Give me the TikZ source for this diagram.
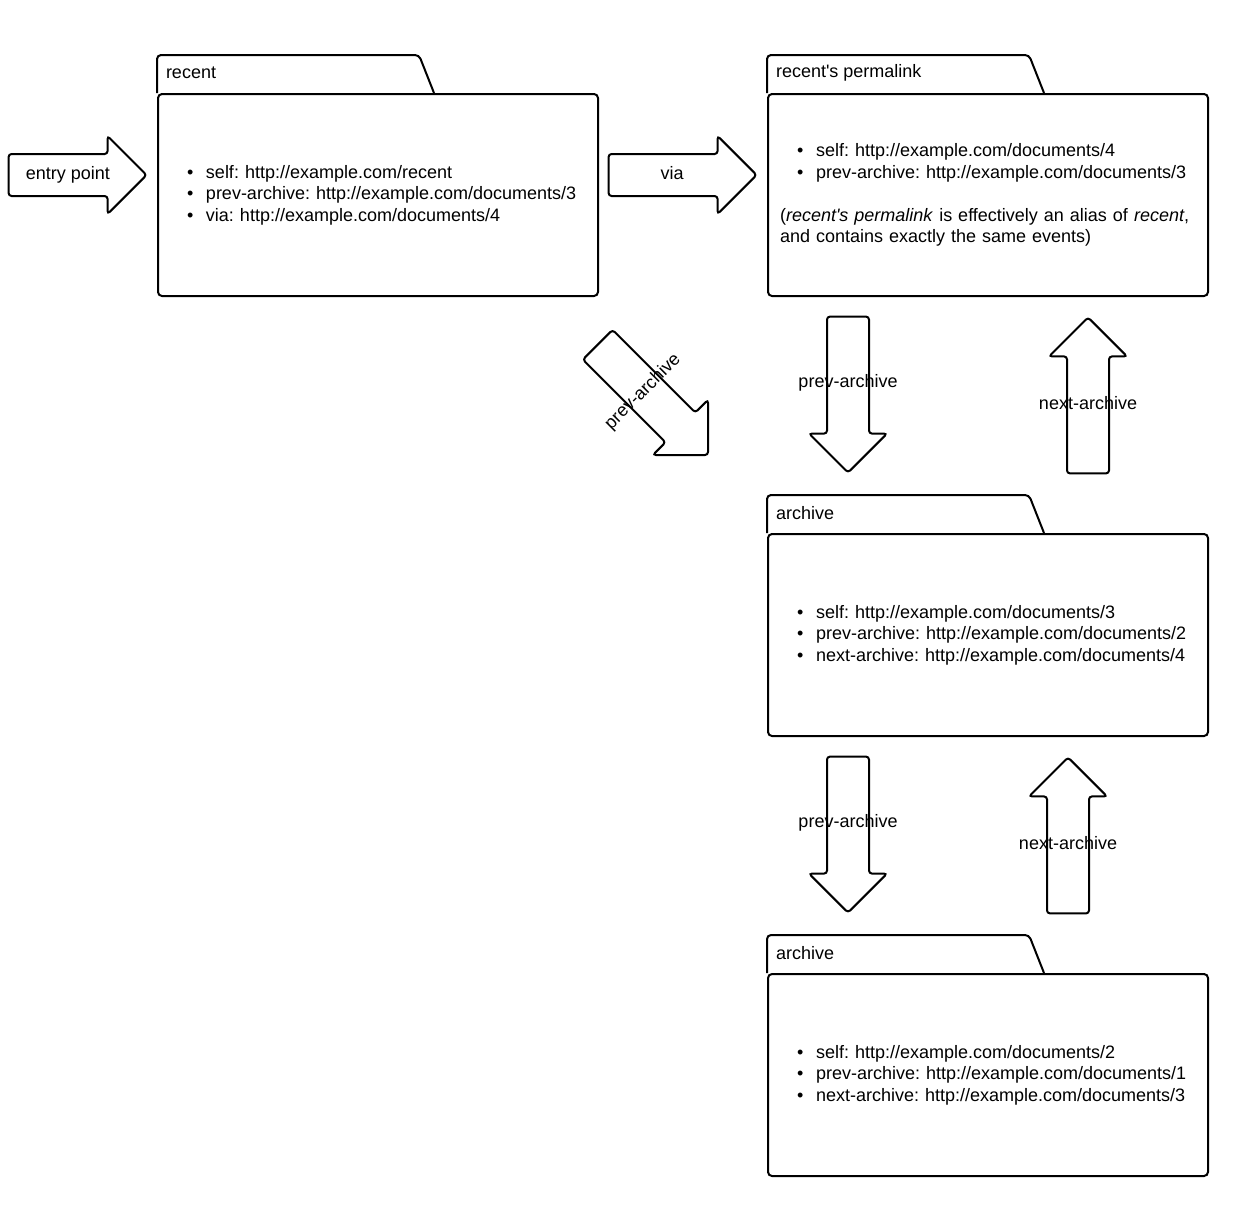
\documentclass[tikz,border=0pt]{standalone}
\usepackage{fontspec}
\setmainfont{Liberation Sans}
\usetikzlibrary{shapes.arrows}
\frenchspacing

\newcommand{\itm}[1]{\hspace*{8.5pt}\makebox[9.5pt][l]{\textbullet}#1}

\begin{document}
\begin{tikzpicture}[x=0.5pt, y=-0.5pt, line width=1pt,
  every node/.style={font=\fontsize{9}{10.75}\selectfont},
  body/.style={draw, rounded corners=2pt, minimum width=220pt, minimum height=101pt,
    text width=208pt, inner xsep=6pt, align=left},
  tabline/.style={rounded corners=2pt},
  tablabel/.style={anchor=west, inner sep=0pt},
  blockarrow/.style={single arrow, draw, rounded corners=1.5pt, inner sep=10pt,
    single arrow head extend=9pt, minimum height=78pt, anchor=tip}]

\useasboundingbox (0,0) rectangle (1240,1205);

\node[body] (recent) at (378,195) {\itm{self: http://example.com/recent}\\
  \itm{prev-archive: http://example.com/documents/3}\\
  \itm{via: http://example.com/documents/4}};
\draw[tabline] (recent.north west) -- ++(0pt,19pt) -- ++(131pt,0pt) -- ++(7.5pt,-19pt);
\node[tablabel] (recent-tab) at ([shift={(4pt,10pt)}]recent.north west) {recent};

\node[body] (perma) at (988,195) {\itm{self: http://example.com/documents/4}\\
  \itm{prev-archive: http://example.com/documents/3}\\[10.75pt]
  (\textit{recent\textquotesingle s permalink} is effectively an alias of \textit{recent},\\
  and contains exactly the same events)};
\draw[tabline] (perma.north west) -- ++(0pt,19pt) -- ++(131pt,0pt) -- ++(7.5pt,-19pt);
\node[tablabel] (perma-tab) at ([shift={(4pt,10pt)}]perma.north west) {recent\textquotesingle s permalink};

\node[body] (arch3) at (988,635) {\itm{self: http://example.com/documents/3}\\
  \itm{prev-archive: http://example.com/documents/2}\\
  \itm{next-archive: http://example.com/documents/4}};
\draw[tabline] (arch3.north west) -- ++(0pt,19pt) -- ++(131pt,0pt) -- ++(7.5pt,-19pt);
\node[tablabel] (arch3-tab) at ([shift={(4pt,10pt)}]arch3.north west) {archive};

\node[body] (arch2) at (988,1075) {\itm{self: http://example.com/documents/2}\\
  \itm{prev-archive: http://example.com/documents/1}\\
  \itm{next-archive: http://example.com/documents/3}};
\draw[tabline] (arch2.north west) -- ++(0pt,19pt) -- ++(131pt,0pt) -- ++(7.5pt,-19pt);
\node[tablabel] (arch2-tab) at ([shift={(4pt,10pt)}]arch2.north west) {archive};

\node[blockarrow, minimum height=69pt] (entry) at (148,175) {};
\node (entry-l) at ([shift={(-40pt,0pt)}]entry.tip) {entry point};

\node[blockarrow, minimum height=74pt] (via) at (758,175) {};
\node (via-l) at ([shift={(-43pt,1pt)}]via.tip) {via};

\node[blockarrow, rotate=-45] (diag) at (709,456) {};
\node[rotate=45] (diag-l) at ([shift={(-33pt,32pt)}]diag.tip) {prev-archive};

\node[blockarrow, rotate=-90] (prev1) at (848,474) {};
\node (prev1-l) at ([yshift=45.5pt]prev1.tip) {prev-archive};

\node[blockarrow, rotate=90] (next1) at (1088,316) {};
\node (next1-l) at ([yshift=-43.5pt]next1.tip) {next-archive};

\node[blockarrow, rotate=-90] (prev2) at (848,914) {};
\node (prev2-l) at ([yshift=45.5pt]prev2.tip) {prev-archive};

\node[blockarrow, rotate=90] (next2) at (1068,756) {};
\node (next2-l) at ([yshift=-43.5pt]next2.tip) {next-archive};

\end{tikzpicture}
\end{document}
